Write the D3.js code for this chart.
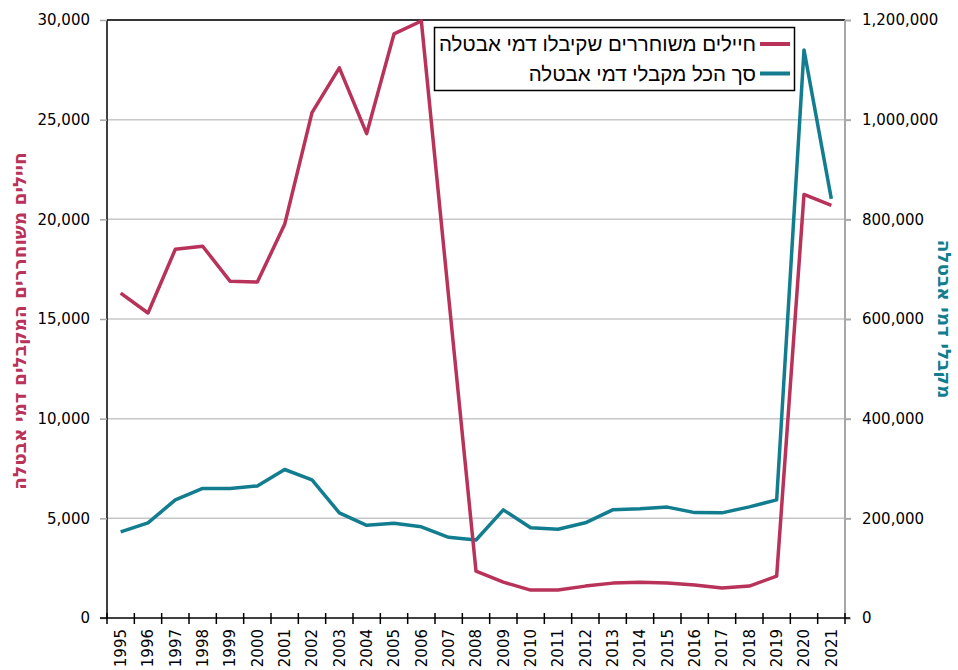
<!DOCTYPE html>
<html>

<head>
    <meta charset="utf-8">
    <title>Unemployment benefits</title>
    <script src="https://d3js.org/d3.v7.min.js"></script>
</head>

<style>
    body {
        background-color: white;
        margin: 0px;
    }

    text {
        font-family: "DejaVu Sans", Verdana, sans-serif;
    }

    .grid line {
        stroke: rgb(200, 200, 200);
        stroke-width: 1.5px;
    }
</style>

<body>
    <svg id="svg"></svg>

    <script>
        // data
        var years = ["1995", "1996", "1997", "1998", "1999", "2000", "2001", "2002", "2003", "2004",
            "2005", "2006", "2007", "2008", "2009", "2010", "2011", "2012", "2013", "2014",
            "2015", "2016", "2017", "2018", "2019", "2020", "2021"]

        var soldiers = [16300, 15300, 18500, 18650, 16900, 16850, 19750, 25350, 27600, 24300,
            29300, 29950, 16100, 2350, 1800, 1400, 1400, 1600, 1750, 1790,
            1750, 1660, 1500, 1600, 2100, 21250, 20700]

        var allRecipients = [173000, 191000, 237000, 260000, 260000, 265000, 298000, 277000, 211000, 186000,
            190000, 183000, 162000, 156500, 217000, 181000, 178000, 191000, 217000, 219000,
            222500, 211500, 211000, 223000, 237000, 1140000, 841000]

        var leftTicks = [0, 5000, 10000, 15000, 20000, 25000, 30000]
        var rightTicks = [0, 200000, 400000, 600000, 800000, 1000000, 1200000]

        var legendLabels = ["חיילים משוחררים שקיבלו דמי אבטלה", "סך הכל מקבלי דמי אבטלה"]
        var leftTitle = "חיילים משוחררים המקבלים דמי אבטלה"
        var rightTitle = "מקבלי דמי אבטלה"

        var red = "#b8325a"
        var blue = "#137d90"

        var width = 958
        var height = 670
        // note: "top" is reserved on window, so plot edges get their own names
        var plotL = 107, plotR = 845, plotT = 20, plotB = 618

        var svg = d3.select("svg")
            .attr("width", width)
            .attr("height", height)

        var x = d3.scaleBand()
            .domain(years)
            .range([plotL, plotR])

        var yLeft = d3.scaleLinear()
            .domain([0, 30000])
            .range([plotB, plotT])

        var yRight = d3.scaleLinear()
            .domain([0, 1200000])
            .range([plotB, plotT])

        var fmt = d3.format(",")

        // gridlines
        svg.append("g")
            .attr("class", "grid")
            .selectAll("line")
            .data(leftTicks.slice(1))
            .join("line")
            .attr("x1", plotL)
            .attr("x2", plotR)
            .attr("y1", d => yLeft(d))
            .attr("y2", d => yLeft(d))

        // top border
        svg.append("line")
            .attr("x1", plotL).attr("x2", plotR)
            .attr("y1", plotT).attr("y2", plotT)
            .attr("stroke", "black")
            .attr("stroke-width", 1.5)

        // right axis (gray)
        var rightAxis = svg.append("g")
            .attr("transform", "translate(" + plotR + ",0)")
            .call(d3.axisRight(yRight).tickValues(rightTicks).tickFormat(fmt).tickSize(6).tickPadding(11))
        rightAxis.selectAll("line, path")
            .attr("stroke", "#a8a8a8")
            .attr("stroke-width", 2)
        rightAxis.select(".domain").attr("d", "M0," + plotT + "V" + plotB)
        rightAxis.selectAll("text")
            .attr("font-size", 15)
            .attr("fill", "black")
            .style("font-family", "DejaVu Sans")

        // left axis
        var leftAxis = svg.append("g")
            .attr("transform", "translate(" + plotL + ",0)")
            .call(d3.axisLeft(yLeft).tickValues(leftTicks).tickFormat(fmt).tickSize(7).tickPadding(10))
        leftAxis.selectAll("line, path")
            .attr("stroke", "black")
            .attr("stroke-width", 1.5)
        leftAxis.selectAll(".tick line").attr("stroke", "#a8a8a8")
        leftAxis.select(".domain").attr("d", "M0," + plotT + "V" + plotB)
        leftAxis.selectAll("text")
            .attr("font-size", 15)
            .attr("fill", "black")
            .style("font-family", "DejaVu Sans")

        // bottom axis: ticks on band edges, labels on band centers
        var bottomAxis = svg.append("g")
        bottomAxis.append("line")
            .attr("x1", plotL - 7).attr("x2", plotR + 5)
            .attr("y1", plotB).attr("y2", plotB)
            .attr("stroke", "black")
            .attr("stroke-width", 1.5)
        var edges = years.map(d => x(d)).concat([plotR])
        bottomAxis.selectAll(".xtick")
            .data(edges)
            .join("line")
            .attr("class", "xtick")
            .attr("x1", d => d).attr("x2", d => d)
            .attr("y1", plotB - 5).attr("y2", plotB + 6)
            .attr("stroke", "black")
            .attr("stroke-width", 1.5)
        bottomAxis.selectAll(".xlabel")
            .data(years)
            .join("text")
            .attr("class", "xlabel")
            .attr("transform", d => "translate(" + (x(d) + x.bandwidth() / 2) + "," + (plotB + 11) + ") rotate(-90)")
            .attr("text-anchor", "end")
            .attr("dy", "0.35em")
            .attr("font-size", 15)
            .text(d => d)

        // lines
        var lineLeft = d3.line()
            .x((d, i) => x(years[i]) + x.bandwidth() / 2)
            .y(d => yLeft(d))

        var lineRight = d3.line()
            .x((d, i) => x(years[i]) + x.bandwidth() / 2)
            .y(d => yRight(d))

        svg.append("path")
            .datum(allRecipients)
            .attr("d", lineRight)
            .attr("fill", "none")
            .attr("stroke", blue)
            .attr("stroke-width", 3.5)
            .attr("stroke-linejoin", "round")

        svg.append("path")
            .datum(soldiers)
            .attr("d", lineLeft)
            .attr("fill", "none")
            .attr("stroke", red)
            .attr("stroke-width", 3.5)
            .attr("stroke-linejoin", "round")

        // axis titles
        svg.append("text")
            .attr("transform", "translate(20," + ((plotT + plotB) / 2 + 2) + ") rotate(-90)")
            .attr("text-anchor", "middle")
            .attr("dy", "0.35em")
            .attr("direction", "rtl")
            .attr("font-size", 18.5)
            .attr("font-weight", "bold")
            .attr("fill", red)
            .text(leftTitle)

        svg.append("text")
            .attr("transform", "translate(944," + ((plotT + plotB) / 2) + ") rotate(90)")
            .attr("text-anchor", "middle")
            .attr("dy", "0.35em")
            .attr("direction", "rtl")
            .attr("font-size", 18.5)
            .attr("font-weight", "bold")
            .attr("fill", blue)
            .text(rightTitle)

        // legend
        var legend = svg.append("g")
        legend.append("rect")
            .attr("x", 434.5)
            .attr("y", 27.5)
            .attr("width", 360)
            .attr("height", 63)
            .attr("fill", "white")
            .attr("stroke", "black")
            .attr("stroke-width", 1.5)

        var items = legend.selectAll(".item")
            .data(legendLabels)
            .join("g")
            .attr("class", "item")
            .attr("transform", (d, i) => "translate(0," + (44 + i * 29.5) + ")")

        items.append("line")
            .attr("x1", 760).attr("x2", 790)
            .attr("stroke", (d, i) => i == 0 ? red : blue)
            .attr("stroke-width", 4)

        items.append("text")
            .attr("x", 756)
            .attr("dy", "0.35em")
            .attr("text-anchor", "start")
            .attr("direction", "rtl")
            .attr("font-size", 20.5)
            .style("font-family", "Liberation Sans, Arial, sans-serif")
            .text(d => d)
    </script>
</body>

</html>
